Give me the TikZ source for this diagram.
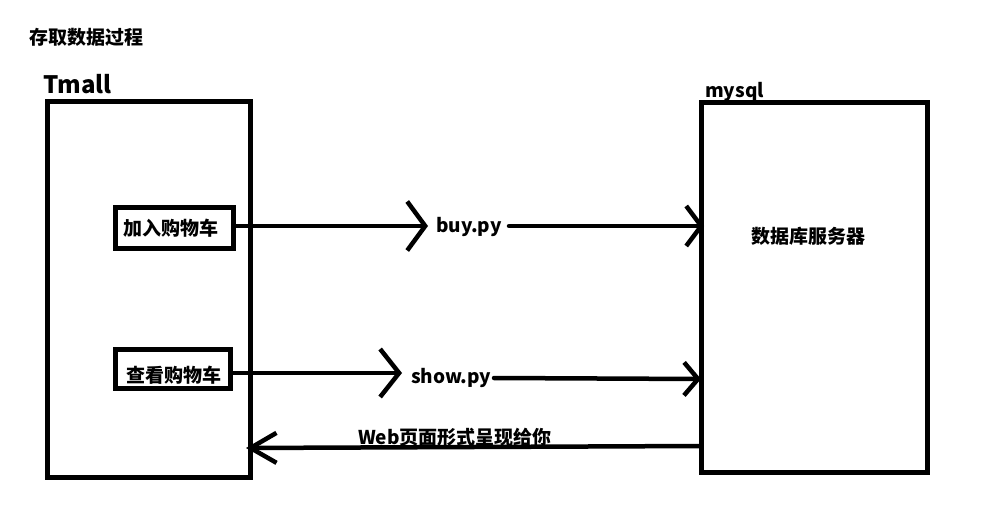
\documentclass[tikz,border=0pt]{standalone}
\usepackage{fontspec}
\setmainfont{Noto Sans CJK SC}
\usetikzlibrary{arrows.meta}
\tikzset{
  bigbox/.style={draw, line width=5pt, inner sep=0pt},
  smallbox/.style={draw, line width=4.5pt, inner sep=0pt},
  txt/.style={inner sep=0pt, font=\bfseries\fontsize{19}{19}\selectfont},
  bigtxt/.style={inner sep=0pt, font=\bfseries\fontsize{24}{24}\selectfont},
  conn/.style={line width=4.5pt, line cap=round},
}
\begin{document}
\begin{tikzpicture}[x=1pt, y=-1pt]
\useasboundingbox (0,0) rectangle (1008,521);
% title
\node[txt, anchor=west] (title) at (29,37) {存取数据过程};
% big boxes
\node[bigbox, minimum width=203pt, minimum height=375pt] (tmall) at (148.5,289.5) {};
\node[bigbox, minimum width=226pt, minimum height=369pt] (mysql) at (814,287.5) {};
\node[bigtxt, anchor=base west] (tmalllbl) at (43,94) {Tmall};
\node[txt, anchor=base west] (mysqllbl) at (705,98) {mysql};
\node[txt] (dbserver) at (808,236) {数据库服务器};
% small boxes
\node[smallbox, minimum width=118pt, minimum height=41pt] (add) at (174.5,228) {};
\node[txt] (addtxt) at (170.5,228) {加入购物车};
\node[smallbox, minimum width=115pt, minimum height=39pt] (view) at (173,369) {};
\node[txt] (viewtxt) at (173.5,375) {查看购物车};
% script labels
\node[txt, anchor=base west] (buy) at (436,233) {buy.py};
\node[txt, anchor=base west] (show) at (411,383) {show.py};
% coordinates
\coordinate (buytip) at (428,226);
\coordinate (b1) at (509,226);
\coordinate (buyend) at (704,226);
\coordinate (showtip) at (402,373);
\coordinate (s1) at (494,378);
\coordinate (showend) at (701,379);
\coordinate (r0) at (701,446);
\coordinate (rtip) at (246,448);
% arrows
\draw[conn, -{Straight Barb[length=18pt,width=49pt]}] (add.east |- buytip) -- (buytip);
\draw[conn, -{Straight Barb[length=15pt,width=40pt]}] (b1) -- (buyend);
\draw[conn, -{Straight Barb[length=19pt,width=48pt]}] (view.east |- showtip) -- (showtip);
\draw[conn, -{Straight Barb[length=14pt,width=33pt]}] (s1) -- (showend);
\draw[conn, -{Straight Barb[length=26pt,width=30pt]}] (r0) -- (rtip);
\node[txt, anchor=base west] (web) at (358,444) {Web页面形式呈现给你};
\end{tikzpicture}
\end{document}
